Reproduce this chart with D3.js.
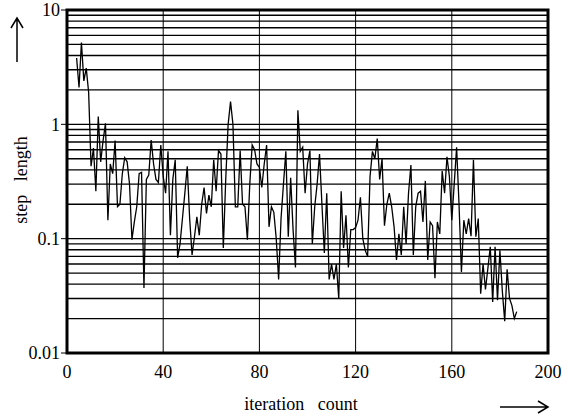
<!DOCTYPE html>
<html>
<head>
<meta charset="utf-8">
<script src="https://cdn.jsdelivr.net/npm/d3@7"></script>
<style>
  body { margin: 0; background: #fff; }
  text { font-family: "Liberation Serif", "DejaVu Serif", serif; fill: #000; }
</style>
</head>
<body>
<div id="chart"></div>
<script>
// iteration number and step length
const iters = [4,5,6,7,8,9,10,11,12,13,14,15,16,17,18,19,20,21,22,23,24,25,26,27,28,29,30,31,32,33,34,35,36,37,38,39,40,
  41,42,43,44,45,46,47,48,49,50,51,52,53,54,55,56,57,58,59,60,61,62,63,64,65,66,67,68,69,70,71,72,73,74,75,76,77,78,79,80,
  81,82,83,84,85,86,87,88,89,90,91,92,93,94,95,96,97,98,99,100,101,102,103,104,105,106,107,108,109,110,111,112,113,114,115,
  116,117,118,119,120,121,122,123,124,125,126,127,128,129,130,131,132,133,134,135,136,137,138,139,140,141,142,143,144,145,
  146,147,148,149,150,151,152,153,154,155,156,157,158,159,160,161,162,163,164,165,166,167,168,169,170,171,172,173,174,175,
  176,177,178,179,180,181,182,183,184,185,186,187];
const stepLength = [3.8,2.1,5.2,2.4,3.1,1.9,0.43,0.62,0.26,1.17,0.47,0.72,1.02,0.145,0.45,0.37,0.72,0.19,0.2,0.37,0.51,0.47,0.3,0.098,0.14,0.19,0.37,0.38,0.037,0.33,0.36,0.73,0.45,0.33,0.31,0.66,0.35,
  0.25,0.58,0.107,0.33,0.49,0.068,0.09,0.15,0.25,0.43,0.15,0.072,0.104,0.155,0.107,0.2,0.28,0.166,0.24,0.19,0.49,0.26,0.59,0.55,0.083,0.33,1.0,1.58,1.0,0.19,0.19,0.59,0.2,0.19,0.098,0.3,0.66,0.6,0.45,0.42,
  0.28,0.45,0.66,0.127,0.19,0.17,0.1,0.044,0.15,0.3,0.58,0.104,0.34,0.12,0.056,1.33,0.58,0.63,0.25,0.45,0.59,0.09,0.19,0.3,0.55,0.2,0.075,0.25,0.044,0.06,0.044,0.06,0.03,0.26,0.083,
  0.16,0.056,0.12,0.12,0.125,0.145,0.23,0.1,0.079,0.07,0.35,0.58,0.5,0.75,0.33,0.5,0.13,0.2,0.25,0.19,0.127,0.065,0.11,0.072,0.19,0.09,0.25,0.44,0.072,0.19,
  0.25,0.26,0.14,0.32,0.065,0.14,0.13,0.045,0.14,0.11,0.39,0.25,0.52,0.35,0.145,0.3,0.63,0.2,0.051,0.145,0.11,0.15,0.105,0.49,0.104,0.15,0.033,0.06,0.036,0.055,
  0.085,0.028,0.085,0.029,0.079,0.035,0.019,0.054,0.03,0.026,0.02,0.023];

const xTicks = [0, 40, 80, 120, 160, 200];
const yTicks = [0.01, 0.1, 1, 10];
const yTickLabels = ["0.01", "0.1", "1", "10"];

const width = 562, height = 417;
const margin = {top: 10, right: 14, bottom: 64, left: 67};

const svg = d3.select("#chart").append("svg")
  .attr("width", width).attr("height", height);

const x = d3.scaleLinear().domain([0, 200]).range([margin.left, width - margin.right]);
const y = d3.scaleLog().domain([0.01, 10]).range([height - margin.bottom, margin.top]);

// horizontal grid at 2..9 of every decade
const minor = [];
[0.01, 0.1, 1].forEach(d => { for (let k = 1; k <= 9; k++) minor.push(d * k); });
minor.push(10);
svg.append("g").selectAll("line").data(minor.filter(v => v > 0.01)).join("line")
  .attr("x1", x(0)).attr("x2", x(200))
  .attr("y1", d => y(d)).attr("y2", d => y(d))
  .attr("stroke", "#000").attr("stroke-width", 1.4);

// vertical grid
svg.append("g").selectAll("line").data(xTicks.slice(1, -1)).join("line")
  .attr("x1", d => x(d)).attr("x2", d => x(d))
  .attr("y1", y(10)).attr("y2", y(0.01))
  .attr("stroke", "#000").attr("stroke-width", 1);

// data line
const line = d3.line()
  .x((d, i) => x(iters[i]))
  .y(d => y(d));
svg.append("path").datum(stepLength)
  .attr("d", line)
  .attr("fill", "none").attr("stroke", "#000").attr("stroke-width", 1.3)
  .attr("stroke-linejoin", "miter");

// frame
svg.append("rect")
  .attr("x", x(0)).attr("y", y(10))
  .attr("width", x(200) - x(0)).attr("height", y(0.01) - y(10))
  .attr("fill", "none").attr("stroke", "#000").attr("stroke-width", 3);

// y axis ticks + labels
const yAxis = svg.append("g");
yAxis.selectAll("line").data(yTicks).join("line")
  .attr("x1", x(0) - 6).attr("x2", x(0))
  .attr("y1", d => y(d)).attr("y2", d => y(d))
  .attr("stroke", "#000").attr("stroke-width", 1);
yAxis.selectAll("text").data(yTicks).join("text")
  .attr("x", x(0) - 7).attr("y", d => y(d))
  .attr("dy", "0.35em").attr("text-anchor", "end")
  .attr("font-size", 18)
  .text((d, i) => yTickLabels[i]);

// x axis labels
svg.append("g").selectAll("text").data(xTicks).join("text")
  .attr("x", d => x(d)).attr("y", y(0.01) + 25)
  .attr("text-anchor", "middle").attr("font-size", 18)
  .text(d => d);

// axis titles
svg.append("text")
  .attr("transform", "translate(27," + 180 + ") rotate(-90)")
  .attr("text-anchor", "middle").attr("font-size", 18)
  .text("step\u00a0\u00a0\u00a0length");
svg.append("text")
  .attr("x", 301).attr("y", 410)
  .attr("text-anchor", "middle").attr("font-size", 18)
  .text("iteration\u00a0\u00a0\u00a0count");

// arrows
const arrows = svg.append("g").attr("stroke", "#000").attr("fill", "none").attr("stroke-width", 1.5);
arrows.append("path").attr("d", "M17,62 L17,18 M11,28 L17,18 L23,28");
arrows.append("path").attr("d", "M500,407 L548,407 M538,401 L548,407 L538,413");
</script>
</body>
</html>
